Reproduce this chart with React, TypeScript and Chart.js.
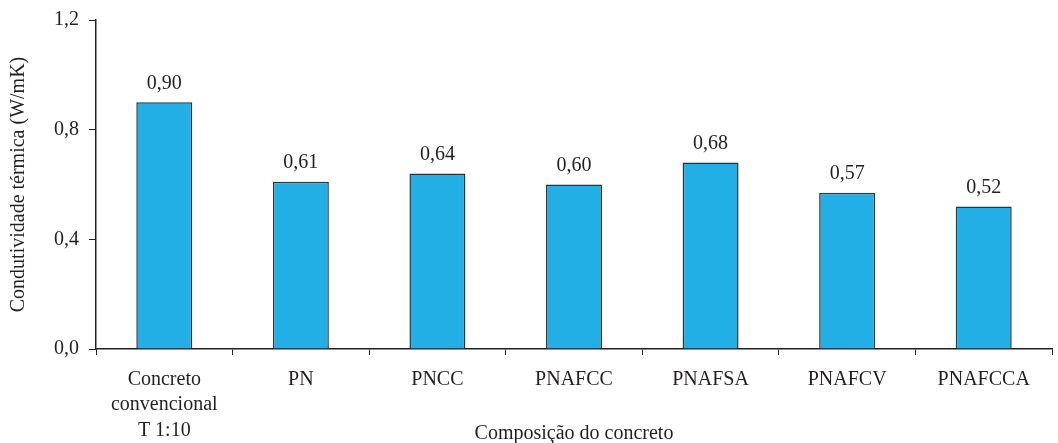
import React, { useEffect, useRef } from "react";
import { Chart, registerables } from "chart.js";

Chart.register(...registerables);

const categories: (string | string[])[] = [
  ["Concreto", "convencional", "T 1:10"],
  "PN",
  "PNCC",
  "PNAFCC",
  "PNAFSA",
  "PNAFCV",
  "PNAFCCA",
];
const values: number[] = [0.9, 0.61, 0.64, 0.6, 0.68, 0.57, 0.52];
const yTicks: number[] = [0, 0.4, 0.8, 1.2];
const yTitle = "Condutividade térmica (W/mK)";
const xTitle = "Composição do concreto";

const FONT = "'Liberation Serif', 'DejaVu Serif', serif";
const TEXT = "#231f20";

const labelPlugin = {
  id: "valueLabels",
  afterDatasetsDraw(chart: any) {
    const ctx = chart.ctx;
    const meta = chart.getDatasetMeta(0);
    ctx.save();
    ctx.font = `20px ${FONT}`;
    ctx.fillStyle = TEXT;
    ctx.textAlign = "center";
    ctx.textBaseline = "bottom";
    meta.data.forEach((bar: any, i: number) => {
      const v = values[i];
      ctx.fillText(v.toFixed(2).replace(".", ","), bar.x, bar.y - 9);
    });
    ctx.restore();
  },
};

export default function App() {
  const ref = useRef<HTMLCanvasElement>(null);
  useEffect(() => {
    document.body.style.margin = "0";
    const chart = new Chart(ref.current!, {
      type: "bar",
      data: {
        labels: categories,
        datasets: [
          {
            data: values,
            backgroundColor: "#21afe5",
            borderColor: "#333333",
            borderWidth: 1.5,
            barPercentage: 0.41,
            categoryPercentage: 1,
          },
        ],
      },
      options: {
        animation: false,
        responsive: false,
        maintainAspectRatio: false,
        layout: { padding: { top: 20, right: 6, left: 4, bottom: 0 } },
        plugins: {
          legend: { display: false },
          tooltip: { enabled: false },
        },
        scales: {
          x: {
            afterFit: (scale: any) => {
              scale.height = 94;
            },
            grid: {
              drawOnChartArea: false,
              drawTicks: true,
              tickLength: 6,
              color: "#231f20",
              offset: true,
            },
            border: { display: true, color: "#231f20", width: 1.5 },
            ticks: {
              color: TEXT,
              font: { family: FONT, size: 20, lineHeight: 1.27 },
              maxRotation: 0,
              autoSkip: false,
              padding: 12,
            },
            title: {
              display: true,
              text: xTitle,
              color: TEXT,
              font: { family: FONT, size: 20 },
              padding: { top: 0, bottom: -3 },
            },
          },
          y: {
            min: 0,
            max: 1.2,
            afterFit: (scale: any) => {
              scale.width = 92;
              scale.paddingTop = 0;
              scale.paddingBottom = 0;
            },
            afterBuildTicks: (scale: any) => {
              scale.ticks = yTicks.map((v) => ({ value: v }));
            },
            grid: {
              drawOnChartArea: false,
              drawTicks: true,
              tickLength: 7,
              color: "#231f20",
            },
            border: { display: true, color: "#231f20", width: 1.5 },
            ticks: {
              color: TEXT,
              font: { family: FONT, size: 20 },
              padding: 10,
              callback: (v: any) => Number(v).toFixed(1).replace(".", ","),
            },
            title: {
              display: true,
              text: yTitle,
              color: TEXT,
              font: { family: FONT, size: 20 },
              padding: { top: 3, bottom: 0 },
            },
          },
        },
      },
      plugins: [labelPlugin],
    });
    return () => chart.destroy();
  }, []);
  return (
    <div style={{ position: "absolute", left: 0, top: 0, width: 1058, height: 443 }}>
      <canvas ref={ref} width={1058} height={443} style={{ width: 1058, height: 443 }} />
    </div>
  );
}
